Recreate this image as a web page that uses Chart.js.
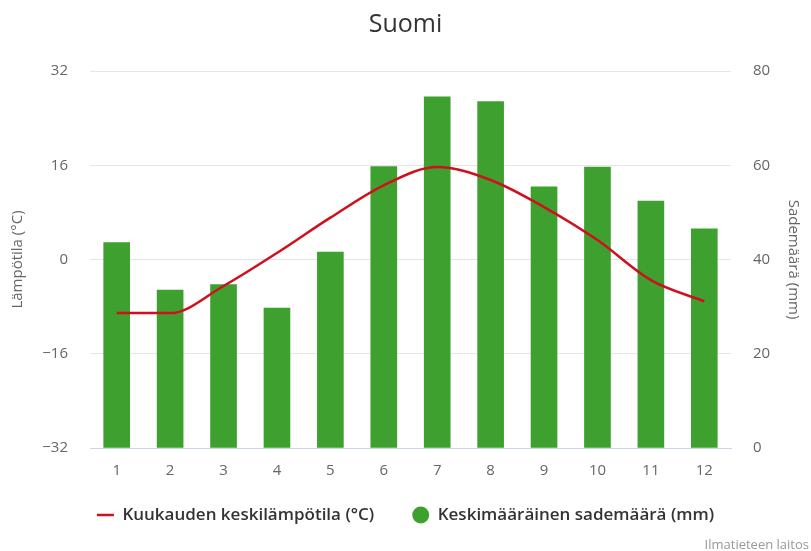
<!DOCTYPE html>
<html>
<head>
<meta charset="utf-8">
<script src="https://cdn.jsdelivr.net/npm/chart.js@4.4.1/dist/chart.umd.min.js"></script>
<style>
  html, body { margin: 0; padding: 0; background: #ffffff; }
  #wrap { width: 811px; height: 551px; }
</style>
</head>
<body>
<div id="wrap"><canvas id="chart" width="811" height="551"></canvas></div>
<script>
// kuukaudet ja arvot (luettu kuvasta)
const months = ["1", "2", "3", "4", "5", "6", "7", "8", "9", "10", "11", "12"];
const temperature = [-9.1, -9.1, -4.5, 1.1, 7.1, 12.6, 15.7, 13.5, 8.9, 3.3, -3.5, -7.1];
const rainfall = [43.6, 33.5, 34.7, 29.7, 41.6, 59.7, 74.5, 73.5, 55.4, 59.6, 52.4, 46.5];
const tempTicks = [-32, -16, 0, 16, 32];
const rainTicks = [0, 20, 40, 60, 80];

const FONT = "'Open Sans', 'DejaVu Sans', sans-serif";
const RED = "#d0101e";
const GREEN = "#3ea12f";

// lähdeteksti oikeaan alakulmaan
const creditsPlugin = {
  id: "credits",
  afterDraw(chart) {
    const ctx = chart.ctx;
    ctx.save();
    ctx.font = "13px " + FONT;
    ctx.fillStyle = "#999999";
    ctx.textAlign = "right";
    ctx.textBaseline = "middle";
    ctx.fillText("Ilmatieteen laitos", 809, 545);
    ctx.restore();
  }
};

// legendan padding kasvattaa myös pystyväliä -> nostetaan legendaa
const legendShift = {
  id: "legendShift",
  afterLayout(chart) {
    if (chart.legend) {
      chart.legend.top -= 17.5;
      chart.legend.bottom -= 17.5;
    }
  }
};

const ctx = document.getElementById("chart").getContext("2d");
new Chart(ctx, {
  type: "bar",
  data: {
    labels: months,
    datasets: [
      {
        type: "line",
        label: "Kuukauden keskilämpötila (°C)",
        data: temperature,
        yAxisID: "yTemp",
        borderColor: RED,
        backgroundColor: RED,
        borderWidth: 2.5,
        pointRadius: 0,
        pointHoverRadius: 0,
        pointStyle: "line",
        pointBorderColor: RED,
        pointBorderWidth: 2.5,
        cubicInterpolationMode: "monotone",
        fill: false,
        order: 0
      },
      {
        type: "bar",
        label: "Keskimääräinen sademäärä (mm)",
        data: rainfall,
        yAxisID: "yRain",
        backgroundColor: GREEN,
        borderWidth: 0,
        barThickness: 26,
        pointStyle: "circle",
        order: 1
      }
    ]
  },
  options: {
    responsive: false,
    animation: false,
    devicePixelRatio: 1,
    layout: { padding: { left: 0, right: 0, top: 0, bottom: 0 } },
    plugins: {
      title: {
        display: true,
        text: "Suomi",
        color: "#333333",
        font: { family: FONT, size: 25, weight: "normal" },
        padding: { top: 10, bottom: 31 }
      },
      legend: {
        display: true,
        position: "bottom",
        labels: {
          usePointStyle: true,
          boxHeight: 12,
          padding: 38,
          color: "#333333",
          font: { family: FONT, size: 17, weight: 600 }
        }
      },
      tooltip: { enabled: false }
    },
    scales: {
      x: {
        grid: { display: false },
        border: { display: true, color: "#ccd6eb", width: 1 },
        ticks: {
          color: "#666666",
          padding: 6,
          font: { family: FONT, size: 15 }
        },
        afterFit: (s) => { s.height = 38; }
      },
      yTemp: {
        position: "left",
        min: -32,
        max: 32,
        afterBuildTicks: (s) => { s.ticks = tempTicks.map((v) => ({ value: v })); },
        grid: { color: "#e6e6e6", drawTicks: false },
        border: { display: false },
        ticks: {
          color: "#666666",
          padding: 22,
          font: { family: FONT, size: 15 },
          callback: (v) => String(v).replace("-", "\u2212")
        },
        title: {
          display: true,
          text: "Lämpötila (°C)",
          color: "#666666",
          font: { family: FONT, size: 15 },
          padding: { top: 9, bottom: 0 }
        },
        afterFit: (s) => { s.width = 90; }
      },
      yRain: {
        position: "right",
        min: 0,
        max: 80,
        afterBuildTicks: (s) => { s.ticks = rainTicks.map((v) => ({ value: v })); },
        grid: { drawOnChartArea: false, drawTicks: false },
        border: { display: false },
        ticks: {
          color: "#666666",
          padding: 22,
          font: { family: FONT, size: 15 }
        },
        title: {
          display: true,
          text: "Sademäärä (mm)",
          color: "#666666",
          font: { family: FONT, size: 15 },
          padding: { top: 9, bottom: 0 }
        },
        afterFit: (s) => { s.width = 80; }
      }
    }
  },
  plugins: [creditsPlugin, legendShift]
});
</script>
</body>
</html>
